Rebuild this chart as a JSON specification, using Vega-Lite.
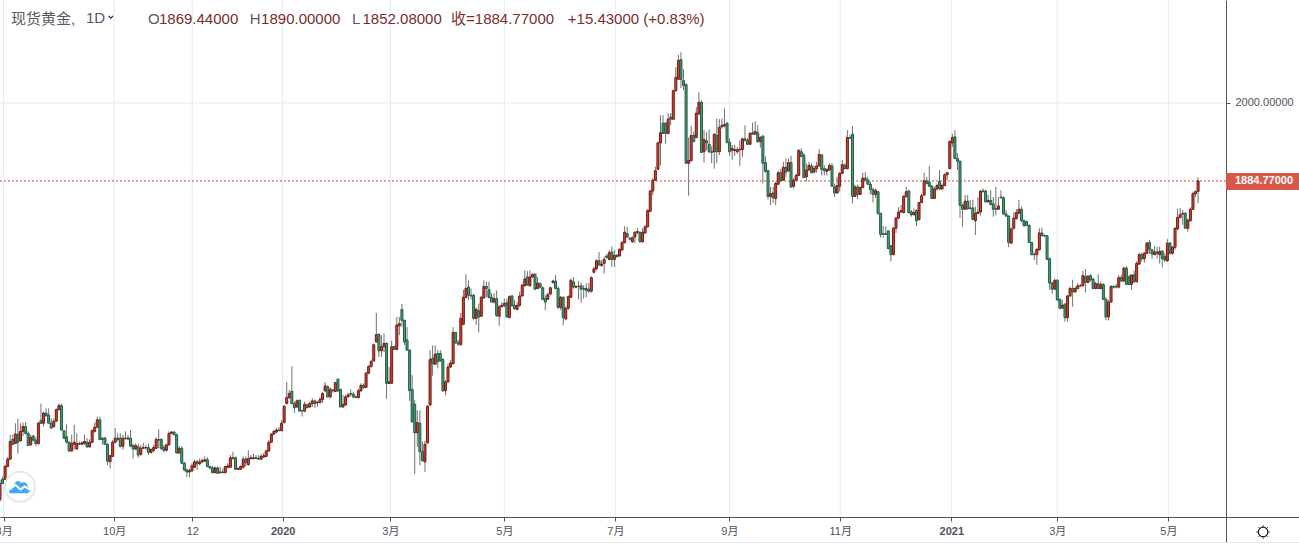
{"$schema":"https://vega.github.io/schema/vega-lite/v6.json","width":1299,"height":543,"padding":0,"autosize":{"type":"none"},"background":"white","config":{"view":{"stroke":null},"font":"Liberation Sans","scale":{"continuousPadding":0}},
"datasets":{"candles":[
{"i":0,"o":1414,"h":1443,"l":1411,"c":1438},{"i":1,"o":1444,"h":1448,"l":1437,"c":1438},{"i":2,"o":1444,"h":1466,"l":1443,"c":1463},{"i":3,"o":1463,"h":1477,"l":1462,"c":1474},{"i":4,"o":1474,"h":1510,"l":1473,"c":1500},{"i":5,"o":1503,"h":1510,"l":1494,"c":1496},{"i":6,"o":1497,"h":1527,"l":1497,"c":1511},{"i":7,"o":1511,"h":1534,"l":1482,"c":1499},{"i":8,"o":1501,"h":1527,"l":1500,"c":1515},{"i":9,"o":1515,"h":1528,"l":1508,"c":1522},
{"i":10,"o":1522,"h":1529,"l":1510,"c":1512},{"i":11,"o":1512,"h":1515,"l":1494,"c":1494},{"i":12,"o":1495,"h":1510,"l":1494,"c":1506},{"i":13,"o":1508,"h":1510,"l":1500,"c":1502},{"i":14,"o":1502,"h":1506,"l":1493,"c":1497},{"i":15,"o":1497,"h":1529,"l":1495,"c":1527},{"i":16,"o":1531,"h":1556,"l":1526,"c":1527},{"i":17,"o":1527,"h":1544,"l":1522,"c":1542},{"i":18,"o":1542,"h":1549,"l":1537,"c":1538},{"i":19,"o":1539,"h":1549,"l":1527,"c":1527},
{"i":20,"o":1527,"h":1534,"l":1518,"c":1520},{"i":21,"o":1522,"h":1534,"l":1520,"c":1530},{"i":22,"o":1530,"h":1549,"l":1529,"c":1547},{"i":23,"o":1547,"h":1556,"l":1546,"c":1553},{"i":24,"o":1553,"h":1556,"l":1516,"c":1517},{"i":25,"o":1516,"h":1517,"l":1503,"c":1505},{"i":26,"o":1507,"h":1525,"l":1497,"c":1499},{"i":27,"o":1499,"h":1500,"l":1485,"c":1486},{"i":28,"o":1486,"h":1510,"l":1485,"c":1497},{"i":29,"o":1496,"h":1525,"l":1488,"c":1499},
{"i":30,"o":1489,"h":1512,"l":1488,"c":1497},{"i":31,"o":1497,"h":1500,"l":1495,"c":1496},{"i":32,"o":1496,"h":1500,"l":1495,"c":1498},{"i":33,"o":1497,"h":1510,"l":1495,"c":1500},{"i":34,"o":1499,"h":1505,"l":1491,"c":1492},{"i":35,"o":1492,"h":1503,"l":1491,"c":1499},{"i":36,"o":1499,"h":1518,"l":1497,"c":1516},{"i":37,"o":1515,"h":1528,"l":1513,"c":1521},{"i":38,"o":1521,"h":1537,"l":1520,"c":1532},{"i":39,"o":1532,"h":1537,"l":1502,"c":1503},
{"i":40,"o":1505,"h":1506,"l":1495,"c":1503},{"i":41,"o":1505,"h":1507,"l":1495,"c":1496},{"i":42,"o":1496,"h":1497,"l":1465,"c":1471},{"i":43,"o":1470,"h":1480,"l":1460,"c":1479},{"i":44,"o":1478,"h":1502,"l":1477,"c":1499},{"i":45,"o":1499,"h":1520,"l":1497,"c":1505},{"i":46,"o":1505,"h":1512,"l":1500,"c":1503},{"i":47,"o":1505,"h":1512,"l":1491,"c":1493},{"i":48,"o":1493,"h":1510,"l":1488,"c":1505},{"i":49,"o":1505,"h":1515,"l":1503,"c":1504},
{"i":50,"o":1504,"h":1510,"l":1502,"c":1505},{"i":51,"o":1505,"h":1517,"l":1492,"c":1493},{"i":52,"o":1494,"h":1497,"l":1475,"c":1489},{"i":53,"o":1489,"h":1497,"l":1487,"c":1494},{"i":54,"o":1492,"h":1497,"l":1476,"c":1480},{"i":55,"o":1481,"h":1495,"l":1479,"c":1490},{"i":56,"o":1490,"h":1498,"l":1489,"c":1491},{"i":57,"o":1491,"h":1495,"l":1487,"c":1491},{"i":58,"o":1491,"h":1497,"l":1480,"c":1484},{"i":59,"o":1484,"h":1490,"l":1482,"c":1488},
{"i":60,"o":1487,"h":1495,"l":1484,"c":1491},{"i":61,"o":1490,"h":1506,"l":1489,"c":1503},{"i":62,"o":1503,"h":1518,"l":1490,"c":1502},{"i":63,"o":1503,"h":1505,"l":1487,"c":1490},{"i":64,"o":1491,"h":1495,"l":1484,"c":1487},{"i":65,"o":1487,"h":1497,"l":1485,"c":1495},{"i":66,"o":1495,"h":1515,"l":1494,"c":1512},{"i":67,"o":1512,"h":1515,"l":1511,"c":1514},{"i":68,"o":1514,"h":1515,"l":1509,"c":1510},{"i":69,"o":1510,"h":1512,"l":1482,"c":1483},
{"i":70,"o":1483,"h":1493,"l":1482,"c":1490},{"i":71,"o":1490,"h":1493,"l":1467,"c":1468},{"i":72,"o":1468,"h":1470,"l":1456,"c":1458},{"i":73,"o":1458,"h":1460,"l":1448,"c":1455},{"i":74,"o":1455,"h":1460,"l":1447,"c":1457},{"i":75,"o":1457,"h":1468,"l":1455,"c":1464},{"i":76,"o":1462,"h":1473,"l":1461,"c":1470},{"i":77,"o":1470,"h":1473,"l":1458,"c":1467},{"i":78,"o":1467,"h":1475,"l":1465,"c":1470},{"i":79,"o":1470,"h":1475,"l":1468,"c":1472},
{"i":80,"o":1471,"h":1478,"l":1470,"c":1473},{"i":81,"o":1473,"h":1477,"l":1462,"c":1463},{"i":82,"o":1463,"h":1464,"l":1459,"c":1461},{"i":83,"o":1461,"h":1464,"l":1453,"c":1454},{"i":84,"o":1454,"h":1463,"l":1453,"c":1461},{"i":85,"o":1461,"h":1463,"l":1452,"c":1453},{"i":86,"o":1454,"h":1463,"l":1453,"c":1455},{"i":87,"o":1455,"h":1460,"l":1453,"c":1454},{"i":88,"o":1454,"h":1464,"l":1453,"c":1463},{"i":89,"o":1462,"h":1468,"l":1460,"c":1464},
{"i":90,"o":1462,"h":1480,"l":1461,"c":1476},{"i":91,"o":1476,"h":1485,"l":1473,"c":1475},{"i":92,"o":1476,"h":1478,"l":1458,"c":1459},{"i":93,"o":1459,"h":1462,"l":1458,"c":1460},{"i":94,"o":1459,"h":1465,"l":1458,"c":1463},{"i":95,"o":1462,"h":1478,"l":1460,"c":1474},{"i":96,"o":1474,"h":1478,"l":1463,"c":1469},{"i":97,"o":1466,"h":1487,"l":1464,"c":1475},{"i":98,"o":1475,"h":1480,"l":1473,"c":1476},{"i":99,"o":1475,"h":1482,"l":1473,"c":1476},
{"i":100,"o":1476,"h":1480,"l":1474,"c":1475},{"i":101,"o":1475,"h":1480,"l":1473,"c":1474},{"i":102,"o":1474,"h":1482,"l":1473,"c":1478},{"i":103,"o":1477,"h":1483,"l":1476,"c":1479},{"i":104,"o":1478,"h":1488,"l":1477,"c":1486},{"i":105,"o":1486,"h":1502,"l":1485,"c":1499},{"i":106,"o":1499,"h":1512,"l":1498,"c":1511},{"i":107,"o":1511,"h":1517,"l":1510,"c":1515},{"i":108,"o":1514,"h":1520,"l":1512,"c":1517},{"i":109,"o":1517,"h":1522,"l":1516,"c":1516},
{"i":110,"o":1516,"h":1532,"l":1515,"c":1527},{"i":111,"o":1528,"h":1554,"l":1527,"c":1552},{"i":112,"o":1556,"h":1588,"l":1555,"c":1565},{"i":113,"o":1565,"h":1576,"l":1563,"c":1571},{"i":114,"o":1574,"h":1611,"l":1555,"c":1556},{"i":115,"o":1556,"h":1559,"l":1542,"c":1550},{"i":116,"o":1551,"h":1562,"l":1550,"c":1560},{"i":117,"o":1561,"h":1562,"l":1544,"c":1545},{"i":118,"o":1546,"h":1546,"l":1537,"c":1545},{"i":119,"o":1545,"h":1559,"l":1543,"c":1555},
{"i":120,"o":1554,"h":1556,"l":1549,"c":1550},{"i":121,"o":1551,"h":1559,"l":1550,"c":1556},{"i":122,"o":1556,"h":1564,"l":1551,"c":1560},{"i":123,"o":1560,"h":1562,"l":1549,"c":1556},{"i":124,"o":1557,"h":1560,"l":1551,"c":1558},{"i":125,"o":1558,"h":1566,"l":1556,"c":1562},{"i":126,"o":1562,"h":1573,"l":1557,"c":1571},{"i":127,"o":1575,"h":1588,"l":1573,"c":1582},{"i":128,"o":1581,"h":1583,"l":1565,"c":1566},{"i":129,"o":1566,"h":1580,"l":1563,"c":1577},
{"i":130,"o":1576,"h":1578,"l":1572,"c":1575},{"i":131,"o":1574,"h":1588,"l":1573,"c":1587},{"i":132,"o":1592,"h":1593,"l":1573,"c":1575},{"i":133,"o":1577,"h":1578,"l":1551,"c":1551},{"i":134,"o":1551,"h":1569,"l":1550,"c":1555},{"i":135,"o":1554,"h":1569,"l":1553,"c":1566},{"i":136,"o":1566,"h":1572,"l":1565,"c":1569},{"i":137,"o":1571,"h":1577,"l":1567,"c":1570},{"i":138,"o":1570,"h":1573,"l":1564,"c":1566},{"i":139,"o":1566,"h":1568,"l":1564,"c":1565},
{"i":140,"o":1565,"h":1578,"l":1563,"c":1575},{"i":141,"o":1575,"h":1586,"l":1573,"c":1583},{"i":142,"o":1583,"h":1586,"l":1578,"c":1580},{"i":143,"o":1580,"h":1603,"l":1579,"c":1601},{"i":144,"o":1601,"h":1613,"l":1599,"c":1611},{"i":145,"o":1611,"h":1621,"l":1609,"c":1618},{"i":146,"o":1619,"h":1645,"l":1618,"c":1643},{"i":147,"o":1647,"h":1690,"l":1646,"c":1658},{"i":148,"o":1658,"h":1660,"l":1625,"c":1634},{"i":149,"o":1634,"h":1657,"l":1625,"c":1640},
{"i":150,"o":1640,"h":1660,"l":1632,"c":1645},{"i":151,"o":1645,"h":1646,"l":1563,"c":1586},{"i":152,"o":1586,"h":1610,"l":1585,"c":1588},{"i":153,"o":1586,"h":1649,"l":1585,"c":1640},{"i":154,"o":1640,"h":1642,"l":1635,"c":1636},{"i":155,"o":1636,"h":1684,"l":1635,"c":1672},{"i":156,"o":1671,"h":1684,"l":1657,"c":1674},{"i":157,"o":1695,"h":1703,"l":1669,"c":1679},{"i":158,"o":1679,"h":1680,"l":1642,"c":1647},{"i":159,"o":1650,"h":1669,"l":1634,"c":1635},
{"i":160,"o":1635,"h":1636,"l":1560,"c":1575},{"i":161,"o":1577,"h":1598,"l":1528,"c":1529},{"i":162,"o":1555,"h":1561,"l":1452,"c":1513},{"i":163,"o":1513,"h":1546,"l":1492,"c":1528},{"i":164,"o":1527,"h":1546,"l":1465,"c":1485},{"i":165,"o":1485,"h":1500,"l":1470,"c":1472},{"i":166,"o":1470,"h":1501,"l":1455,"c":1496},{"i":167,"o":1498,"h":1554,"l":1497,"c":1552},{"i":168,"o":1554,"h":1635,"l":1552,"c":1621},{"i":169,"o":1623,"h":1642,"l":1597,"c":1615},
{"i":170,"o":1614,"h":1642,"l":1613,"c":1629},{"i":171,"o":1630,"h":1635,"l":1608,"c":1618},{"i":172,"o":1630,"h":1635,"l":1618,"c":1619},{"i":173,"o":1621,"h":1623,"l":1573,"c":1575},{"i":174,"o":1575,"h":1591,"l":1568,"c":1588},{"i":175,"o":1588,"h":1615,"l":1587,"c":1610},{"i":176,"o":1610,"h":1620,"l":1609,"c":1616},{"i":177,"o":1615,"h":1669,"l":1614,"c":1661},{"i":178,"o":1661,"h":1662,"l":1644,"c":1646},{"i":179,"o":1646,"h":1650,"l":1641,"c":1644},
{"i":180,"o":1643,"h":1690,"l":1642,"c":1682},{"i":181,"o":1673,"h":1724,"l":1672,"c":1713},{"i":182,"o":1713,"h":1747,"l":1711,"c":1726},{"i":183,"o":1728,"h":1738,"l":1709,"c":1716},{"i":184,"o":1716,"h":1726,"l":1710,"c":1715},{"i":185,"o":1716,"h":1718,"l":1679,"c":1682},{"i":186,"o":1682,"h":1698,"l":1672,"c":1695},{"i":187,"o":1693,"h":1704,"l":1661,"c":1684},{"i":188,"o":1685,"h":1715,"l":1684,"c":1713},{"i":189,"o":1712,"h":1738,"l":1711,"c":1729},
{"i":190,"o":1729,"h":1736,"l":1713,"c":1726},{"i":191,"o":1724,"h":1736,"l":1711,"c":1713},{"i":192,"o":1713,"h":1719,"l":1705,"c":1706},{"i":193,"o":1706,"h":1719,"l":1704,"c":1711},{"i":194,"o":1711,"h":1723,"l":1684,"c":1686},{"i":195,"o":1685,"h":1701,"l":1671,"c":1699},{"i":196,"o":1699,"h":1706,"l":1698,"c":1701},{"i":197,"o":1701,"h":1711,"l":1698,"c":1704},{"i":198,"o":1705,"h":1711,"l":1683,"c":1684},{"i":199,"o":1683,"h":1716,"l":1682,"c":1714},
{"i":200,"o":1715,"h":1716,"l":1699,"c":1701},{"i":201,"o":1701,"h":1709,"l":1695,"c":1696},{"i":202,"o":1695,"h":1706,"l":1694,"c":1701},{"i":203,"o":1701,"h":1721,"l":1699,"c":1715},{"i":204,"o":1715,"h":1733,"l":1714,"c":1731},{"i":205,"o":1730,"h":1753,"l":1729,"c":1740},{"i":206,"o":1743,"h":1752,"l":1730,"c":1731},{"i":207,"o":1730,"h":1753,"l":1729,"c":1743},{"i":208,"o":1743,"h":1748,"l":1742,"c":1747},{"i":209,"o":1747,"h":1748,"l":1724,"c":1725},
{"i":210,"o":1726,"h":1743,"l":1725,"c":1734},{"i":211,"o":1733,"h":1735,"l":1726,"c":1728},{"i":212,"o":1727,"h":1729,"l":1709,"c":1710},{"i":213,"o":1711,"h":1716,"l":1694,"c":1706},{"i":214,"o":1710,"h":1720,"l":1709,"c":1717},{"i":215,"o":1718,"h":1729,"l":1716,"c":1727},{"i":216,"o":1735,"h":1739,"l":1733,"c":1737},{"i":217,"o":1737,"h":1746,"l":1725,"c":1726},{"i":218,"o":1726,"h":1729,"l":1696,"c":1698},{"i":219,"o":1698,"h":1715,"l":1694,"c":1713},
{"i":220,"o":1713,"h":1714,"l":1672,"c":1683},{"i":221,"o":1681,"h":1699,"l":1679,"c":1697},{"i":222,"o":1697,"h":1716,"l":1694,"c":1714},{"i":223,"o":1713,"h":1741,"l":1712,"c":1738},{"i":224,"o":1736,"h":1743,"l":1726,"c":1728},{"i":225,"o":1728,"h":1731,"l":1726,"c":1729},{"i":226,"o":1729,"h":1737,"l":1710,"c":1729},
{"i":227,"o":1730,"h":1735,"l":1705,"c":1725},{"i":228,"o":1726,"h":1731,"l":1711,"c":1725},{"i":229,"o":1726,"h":1734,"l":1713,"c":1723},{"i":230,"o":1725,"h":1734,"l":1719,"c":1722},{"i":231,"o":1722,"h":1744,"l":1720,"c":1742},{"i":232,"o":1750,"h":1758,"l":1748,"c":1755},{"i":233,"o":1755,"h":1769,"l":1753,"c":1767},{"i":234,"o":1767,"h":1780,"l":1759,"c":1761},{"i":235,"o":1760,"h":1768,"l":1758,"c":1762},{"i":236,"o":1763,"h":1773,"l":1748,"c":1769},
{"i":237,"o":1774,"h":1777,"l":1770,"c":1772},{"i":238,"o":1769,"h":1783,"l":1768,"c":1779},{"i":239,"o":1780,"h":1788,"l":1758,"c":1769},{"i":240,"o":1769,"h":1783,"l":1758,"c":1775},{"i":241,"o":1775,"h":1777,"l":1772,"c":1773},{"i":242,"o":1774,"h":1785,"l":1773,"c":1784},{"i":243,"o":1783,"h":1796,"l":1781,"c":1794},{"i":244,"o":1794,"h":1818,"l":1792,"c":1809},{"i":245,"o":1807,"h":1817,"l":1801,"c":1802},{"i":246,"o":1800,"h":1802,"l":1797,"c":1799},
{"i":247,"o":1795,"h":1803,"l":1793,"c":1801},{"i":248,"o":1802,"h":1811,"l":1793,"c":1809},{"i":249,"o":1809,"h":1815,"l":1806,"c":1810},{"i":250,"o":1809,"h":1810,"l":1794,"c":1795},{"i":251,"o":1795,"h":1815,"l":1794,"c":1809},{"i":252,"o":1808,"h":1820,"l":1807,"c":1817},{"i":253,"o":1817,"h":1843,"l":1816,"c":1841},{"i":254,"o":1840,"h":1872,"l":1839,"c":1870},{"i":255,"o":1870,"h":1889,"l":1864,"c":1886},{"i":256,"o":1886,"h":1906,"l":1885,"c":1900},
{"i":257,"o":1902,"h":1943,"l":1901,"c":1941},{"i":258,"o":1941,"h":1982,"l":1908,"c":1956},{"i":259,"o":1970,"h":1982,"l":1954,"c":1955},{"i":260,"o":1970,"h":1972,"l":1940,"c":1955},{"i":261,"o":1955,"h":1985,"l":1954,"c":1976},{"i":262,"o":1979,"h":1985,"l":1967,"c":1976},{"i":263,"o":1976,"h":2020,"l":1975,"c":2018},{"i":264,"o":2018,"h":2053,"l":2017,"c":2038},{"i":265,"o":2035,"h":2071,"l":2034,"c":2063},{"i":266,"o":2064,"h":2075,"l":2022,"c":2035},
{"i":267,"o":2033,"h":2050,"l":2019,"c":2026},{"i":268,"o":2027,"h":2029,"l":1910,"c":1911},{"i":269,"o":1911,"h":1949,"l":1863,"c":1915},{"i":270,"o":1915,"h":1966,"l":1913,"c":1952},{"i":271,"o":1952,"h":1958,"l":1942,"c":1943},{"i":272,"o":1949,"h":1994,"l":1948,"c":1985},{"i":273,"o":1984,"h":2016,"l":1982,"c":2001},{"i":274,"o":2001,"h":2004,"l":1926,"c":1927},{"i":275,"o":1928,"h":1960,"l":1912,"c":1946},{"i":276,"o":1944,"h":1957,"l":1930,"c":1941},
{"i":277,"o":1939,"h":1961,"l":1926,"c":1928},{"i":278,"o":1928,"h":1936,"l":1911,"c":1927},{"i":279,"o":1928,"h":1955,"l":1903,"c":1954},{"i":280,"o":1952,"h":1977,"l":1911,"c":1928},{"i":281,"o":1928,"h":1976,"l":1923,"c":1964},{"i":282,"o":1965,"h":1977,"l":1962,"c":1967},{"i":283,"o":1966,"h":1992,"l":1964,"c":1968},{"i":284,"o":1970,"h":1972,"l":1940,"c":1942},{"i":285,"o":1942,"h":1948,"l":1922,"c":1928},{"i":286,"o":1930,"h":1938,"l":1916,"c":1933},
{"i":287,"o":1930,"h":1938,"l":1922,"c":1931},{"i":288,"o":1928,"h":1935,"l":1925,"c":1931},{"i":289,"o":1931,"h":1945,"l":1907,"c":1932},{"i":290,"o":1931,"h":1949,"l":1920,"c":1947},{"i":291,"o":1947,"h":1967,"l":1943,"c":1945},{"i":292,"o":1945,"h":1948,"l":1938,"c":1939},{"i":293,"o":1939,"h":1957,"l":1938,"c":1955},{"i":294,"o":1956,"h":1971,"l":1953,"c":1954},{"i":295,"o":1954,"h":1973,"l":1953,"c":1958},{"i":296,"o":1956,"h":1967,"l":1941,"c":1943},
{"i":297,"o":1943,"h":1951,"l":1934,"c":1949},{"i":298,"o":1951,"h":1953,"l":1881,"c":1911},{"i":299,"o":1912,"h":1921,"l":1897,"c":1899},{"i":300,"o":1900,"h":1901,"l":1857,"c":1862},{"i":301,"o":1862,"h":1876,"l":1849,"c":1866},{"i":302,"o":1867,"h":1876,"l":1852,"c":1860},{"i":303,"o":1859,"h":1884,"l":1849,"c":1881},{"i":304,"o":1880,"h":1900,"l":1879,"c":1897},{"i":305,"o":1897,"h":1903,"l":1884,"c":1885},{"i":306,"o":1886,"h":1913,"l":1885,"c":1905},
{"i":307,"o":1905,"h":1918,"l":1891,"c":1898},{"i":308,"o":1900,"h":1918,"l":1898,"c":1912},{"i":309,"o":1912,"h":1922,"l":1875,"c":1876},{"i":310,"o":1877,"h":1889,"l":1874,"c":1886},{"i":311,"o":1886,"h":1896,"l":1885,"c":1893},{"i":312,"o":1893,"h":1932,"l":1892,"c":1930},{"i":313,"o":1928,"h":1933,"l":1920,"c":1921},{"i":314,"o":1923,"h":1926,"l":1889,"c":1890},{"i":315,"o":1891,"h":1911,"l":1884,"c":1901},{"i":316,"o":1901,"h":1913,"l":1900,"c":1908},
{"i":317,"o":1907,"h":1911,"l":1896,"c":1897},{"i":318,"o":1898,"h":1908,"l":1896,"c":1903},{"i":319,"o":1903,"h":1913,"l":1897,"c":1907},{"i":320,"o":1907,"h":1932,"l":1906,"c":1924},{"i":321,"o":1923,"h":1925,"l":1893,"c":1902},{"i":322,"o":1903,"h":1908,"l":1893,"c":1900},{"i":323,"o":1899,"h":1903,"l":1893,"c":1902},{"i":324,"o":1901,"h":1911,"l":1900,"c":1908},{"i":325,"o":1907,"h":1911,"l":1876,"c":1877},{"i":326,"o":1876,"h":1881,"l":1861,"c":1867},
{"i":327,"o":1867,"h":1891,"l":1866,"c":1878},{"i":328,"o":1877,"h":1898,"l":1869,"c":1896},{"i":329,"o":1896,"h":1916,"l":1895,"c":1909},{"i":330,"o":1908,"h":1911,"l":1902,"c":1903},{"i":331,"o":1903,"h":1960,"l":1902,"c":1949},{"i":332,"o":1949,"h":1953,"l":1947,"c":1948},{"i":333,"o":1954,"h":1966,"l":1852,"c":1862},{"i":334,"o":1862,"h":1879,"l":1861,"c":1876},{"i":335,"o":1876,"h":1879,"l":1858,"c":1865},
{"i":336,"o":1865,"h":1877,"l":1864,"c":1875},{"i":337,"o":1875,"h":1897,"l":1874,"c":1889},{"i":338,"o":1889,"h":1898,"l":1885,"c":1886},{"i":339,"o":1886,"h":1891,"l":1879,"c":1880},{"i":340,"o":1880,"h":1884,"l":1865,"c":1872},{"i":341,"o":1872,"h":1875,"l":1853,"c":1865},{"i":342,"o":1865,"h":1874,"l":1860,"c":1871},{"i":343,"o":1869,"h":1870,"l":1835,"c":1837},{"i":344,"o":1837,"h":1838,"l":1801,"c":1806},{"i":345,"o":1807,"h":1818,"l":1801,"c":1806},
{"i":346,"o":1807,"h":1818,"l":1805,"c":1806},{"i":347,"o":1811,"h":1812,"l":1784,"c":1785},{"i":348,"o":1789,"h":1790,"l":1766,"c":1776},{"i":349,"o":1776,"h":1817,"l":1775,"c":1815},{"i":350,"o":1815,"h":1832,"l":1808,"c":1830},{"i":351,"o":1830,"h":1846,"l":1828,"c":1839},{"i":352,"o":1839,"h":1849,"l":1838,"c":1841},{"i":353,"o":1838,"h":1864,"l":1837,"c":1862},{"i":354,"o":1862,"h":1876,"l":1860,"c":1869},{"i":355,"o":1870,"h":1872,"l":1837,"c":1838},
{"i":356,"o":1839,"h":1842,"l":1832,"c":1835},{"i":357,"o":1835,"h":1844,"l":1834,"c":1838},{"i":358,"o":1841,"h":1843,"l":1818,"c":1826},{"i":359,"o":1828,"h":1854,"l":1826,"c":1853},{"i":360,"o":1853,"h":1866,"l":1852,"c":1863},{"i":361,"o":1864,"h":1897,"l":1863,"c":1885},{"i":362,"o":1885,"h":1891,"l":1880,"c":1881},{"i":363,"o":1883,"h":1907,"l":1876,"c":1877},{"i":364,"o":1877,"h":1879,"l":1858,"c":1859},{"i":365,"o":1859,"h":1876,"l":1858,"c":1873},
{"i":366,"o":1873,"h":1881,"l":1871,"c":1878},{"i":367,"o":1884,"h":1901,"l":1871,"c":1873},{"i":368,"o":1873,"h":1881,"l":1871,"c":1878},{"i":369,"o":1878,"h":1896,"l":1877,"c":1894},{"i":370,"o":1894,"h":1898,"l":1886,"c":1897},{"i":371,"o":1903,"h":1945,"l":1902,"c":1943},{"i":372,"o":1941,"h":1955,"l":1935,"c":1949},{"i":373,"o":1950,"h":1960,"l":1917,"c":1918},{"i":374,"o":1918,"h":1926,"l":1901,"c":1914},{"i":375,"o":1914,"h":1915,"l":1830,"c":1849},
{"i":376,"o":1849,"h":1852,"l":1817,"c":1843},{"i":377,"o":1843,"h":1864,"l":1842,"c":1855},{"i":378,"o":1855,"h":1864,"l":1842,"c":1844},{"i":379,"o":1845,"h":1857,"l":1843,"c":1844},{"i":380,"o":1845,"h":1857,"l":1827,"c":1828},{"i":381,"o":1826,"h":1847,"l":1805,"c":1837},{"i":382,"o":1837,"h":1861,"l":1836,"c":1839},{"i":383,"o":1839,"h":1871,"l":1834,"c":1870},{"i":384,"o":1870,"h":1874,"l":1868,"c":1869},{"i":385,"o":1870,"h":1872,"l":1853,"c":1854},
{"i":386,"o":1854,"h":1864,"l":1853,"c":1856},{"i":387,"o":1856,"h":1871,"l":1849,"c":1850},{"i":388,"o":1851,"h":1861,"l":1832,"c":1843},{"i":389,"o":1844,"h":1876,"l":1834,"c":1843},{"i":390,"o":1843,"h":1861,"l":1842,"c":1848},{"i":391,"o":1861,"h":1871,"l":1859,"c":1860},{"i":392,"o":1860,"h":1862,"l":1835,"c":1836},{"i":393,"o":1836,"h":1842,"l":1832,"c":1833},{"i":394,"o":1833,"h":1834,"l":1787,"c":1794},{"i":395,"o":1793,"h":1816,"l":1792,"c":1814},
{"i":396,"o":1815,"h":1839,"l":1813,"c":1830},{"i":397,"o":1829,"h":1843,"l":1828,"c":1838},{"i":398,"o":1837,"h":1857,"l":1836,"c":1843},{"i":399,"o":1843,"h":1847,"l":1824,"c":1826},{"i":400,"o":1826,"h":1828,"l":1817,"c":1819},{"i":401,"o":1825,"h":1826,"l":1818,"c":1819},{"i":402,"o":1819,"h":1821,"l":1793,"c":1794},{"i":403,"o":1794,"h":1795,"l":1775,"c":1776},{"i":404,"o":1776,"h":1780,"l":1768,"c":1776},{"i":405,"o":1776,"h":1785,"l":1761,"c":1784},
{"i":406,"o":1783,"h":1815,"l":1782,"c":1808},{"i":407,"o":1808,"h":1816,"l":1803,"c":1804},{"i":408,"o":1804,"h":1806,"l":1802,"c":1804},{"i":409,"o":1804,"h":1805,"l":1768,"c":1769},{"i":410,"o":1770,"h":1772,"l":1724,"c":1734},{"i":411,"o":1734,"h":1736,"l":1718,"c":1725},{"i":412,"o":1725,"h":1741,"l":1724,"c":1738},{"i":413,"o":1738,"h":1740,"l":1708,"c":1709},{"i":414,"o":1710,"h":1711,"l":1695,"c":1697},{"i":415,"o":1697,"h":1709,"l":1696,"c":1701},
{"i":416,"o":1703,"h":1704,"l":1677,"c":1683},{"i":417,"o":1683,"h":1716,"l":1677,"c":1715},{"i":418,"o":1715,"h":1729,"l":1714,"c":1726},{"i":419,"o":1726,"h":1739,"l":1699,"c":1721},{"i":420,"o":1721,"h":1729,"l":1720,"c":1726},{"i":421,"o":1726,"h":1734,"l":1725,"c":1730},{"i":422,"o":1730,"h":1733,"l":1728,"c":1730},{"i":423,"o":1730,"h":1752,"l":1729,"c":1745},{"i":424,"o":1744,"h":1755,"l":1720,"c":1735},{"i":425,"o":1735,"h":1746,"l":1734,"c":1744},
{"i":426,"o":1745,"h":1747,"l":1736,"c":1739},{"i":427,"o":1740,"h":1741,"l":1725,"c":1726},{"i":428,"o":1726,"h":1736,"l":1725,"c":1733},{"i":429,"o":1733,"h":1747,"l":1725,"c":1726},{"i":430,"o":1726,"h":1736,"l":1725,"c":1732},{"i":431,"o":1732,"h":1734,"l":1709,"c":1710},{"i":432,"o":1710,"h":1713,"l":1679,"c":1684},{"i":433,"o":1684,"h":1709,"l":1679,"c":1706},{"i":434,"o":1706,"h":1731,"l":1705,"c":1729},{"i":435,"o":1729,"h":1731,"l":1726,"c":1728},
{"i":436,"o":1729,"h":1733,"l":1726,"c":1728},{"i":437,"o":1728,"h":1746,"l":1726,"c":1742},{"i":438,"o":1742,"h":1746,"l":1736,"c":1737},{"i":439,"o":1737,"h":1758,"l":1736,"c":1756},{"i":440,"o":1756,"h":1759,"l":1731,"c":1732},{"i":441,"o":1743,"h":1746,"l":1731,"c":1732},{"i":442,"o":1732,"h":1747,"l":1724,"c":1746},{"i":443,"o":1746,"h":1753,"l":1734,"c":1736},{"i":444,"o":1736,"h":1766,"l":1735,"c":1763},{"i":445,"o":1762,"h":1779,"l":1761,"c":1776},
{"i":446,"o":1776,"h":1779,"l":1766,"c":1770},{"i":447,"o":1770,"h":1780,"l":1764,"c":1778},{"i":448,"o":1778,"h":1795,"l":1777,"c":1793},{"i":449,"o":1794,"h":1798,"l":1777,"c":1784},
{"i":450,"o":1783,"h":1785,"l":1770,"c":1777},{"i":451,"o":1776,"h":1789,"l":1775,"c":1780},{"i":452,"o":1780,"h":1788,"l":1770,"c":1778},{"i":453,"o":1776,"h":1788,"l":1763,"c":1781},{"i":454,"o":1781,"h":1783,"l":1757,"c":1770},{"i":455,"o":1773,"h":1778,"l":1765,"c":1768},{"i":456,"o":1767,"h":1799,"l":1765,"c":1793},{"i":457,"o":1793,"h":1795,"l":1776,"c":1778},{"i":458,"o":1778,"h":1789,"l":1776,"c":1787},{"i":459,"o":1787,"h":1816,"l":1783,"c":1815},
{"i":460,"o":1814,"h":1844,"l":1812,"c":1831},{"i":461,"o":1831,"h":1845,"l":1829,"c":1835},{"i":462,"o":1836,"h":1842,"l":1820,"c":1837},{"i":463,"o":1837,"h":1839,"l":1814,"c":1815},{"i":464,"o":1815,"h":1829,"l":1810,"c":1827},{"i":465,"o":1826,"h":1846,"l":1825,"c":1843},{"i":466,"o":1843,"h":1869,"l":1842,"c":1866},{"i":467,"o":1866,"h":1871,"l":1861,"c":1869},{"i":468,"o":1869.44,"h":1890,"l":1852.08,"c":1884.77}
],
"ticks":[{"i":1.4,"t":"8月"},{"i":44.6,"t":"10月"},{"i":75.1,"t":"12"},{"i":110.4,"t":"2020"},{"i":152.5,"t":"3月"},{"i":197,"t":"5月"},{"i":240.4,"t":"7月"},{"i":284.9,"t":"9月"},{"i":328.2,"t":"11月"},{"i":371.6,"t":"2021"},{"i":413,"t":"3月"},{"i":456.4,"t":"5月"}],
"hdrGrey":[{"t":"现货黄金,","x":4.3,"y":2124},{"t":"1D","x":33.6,"y":2125},{"t":"O","x":57.8,"y":2124},{"t":"H","x":97.6,"y":2124},{"t":"L","x":137.5,"y":2124}],
"hdrRed":[{"t":"1869.44000","x":62.1,"y":2124},{"t":"1890.00000","x":102,"y":2124},{"t":"1852.08000","x":141.6,"y":2124},{"t":"收=1884.77000","x":176.2,"y":2124},{"t":"+15.43000 (+0.83%)","x":221.8,"y":2124}]},
"layer":[
{"data":{"name":"ticks"},"mark":{"type":"rule","color":"#e1ecf3","strokeWidth":1},"encoding":{"x":{"field":"i","type":"quantitative","scale":{"domain":[0,507.42],"nice":false,"zero":false},"axis":{"orient":"bottom","offset":-26,"title":null,"grid":false,"values":[1.4,44.6,75.1,110.4,152.5,197,240.4,284.9,328.2,371.6,413,456.4],"labelExpr":"{'1.4':'8月','44.6':'10月','75.1':'12','110.4':'2020','152.5':'3月','197':'5月','240.4':'7月','284.9':'9月','328.2':'11月','371.6':'2021','413':'3月','456.4':'5月'}[datum.value]","labelFont":"Liberation Sans, Noto Sans CJK SC","labelFontSize":11,"labelColor":"#50535e","labelPadding":4,"labelOverlap":false,"labelFontWeight":{"condition":{"test":"datum.value==110.4||datum.value==371.6","value":"bold"},"value":"normal"},"domainColor":"#50535e","tickColor":"#50535e","tickSize":4}},"y":{"datum":1388.5,"type":"quantitative","scale":{"domain":[1350.1,2152.1],"nice":false,"zero":false},"axis":{"orient":"right","offset":-73,"title":null,"grid":false,"values":[2000],"format":".5f","labelFont":"Liberation Sans","labelFontSize":11,"labelColor":"#50535e","labelPadding":5,"domainColor":"#50535e","tickColor":"#50535e","tickSize":4}},"y2":{"datum":2152.1}}},
{"data":{"values":[{"i":0,"i2":478.9,"p":2000}]},"mark":{"type":"rule","color":"#e1ecf3","strokeWidth":1},"encoding":{"x":{"field":"i","type":"quantitative","scale":{"domain":[0,507.42],"nice":false,"zero":false}},"x2":{"field":"i2"},"y":{"field":"p","type":"quantitative","scale":{"domain":[1350.1,2152.1],"nice":false,"zero":false}}}},
{"data":{"values":[{"i":0,"i2":478.9,"p":1884.77}]},"mark":{"type":"rule","color":"#c9483c","strokeWidth":1,"strokeDash":[2,2]},"encoding":{"x":{"field":"i","type":"quantitative","scale":{"domain":[0,507.42],"nice":false,"zero":false}},"x2":{"field":"i2"},"y":{"field":"p","type":"quantitative","scale":{"domain":[1350.1,2152.1],"nice":false,"zero":false}}}},
{"data":{"values":[{"p":1350.6}]},"mark":{"type":"rule","color":"#e0e3eb","strokeWidth":1},"encoding":{"y":{"field":"p","type":"quantitative","scale":{"domain":[1350.1,2152.1],"nice":false,"zero":false}}}},
{"data":{"name":"candles"},"mark":{"type":"rule","color":"#707070","strokeWidth":1},"encoding":{"x":{"field":"i","type":"quantitative","scale":{"domain":[0,507.42],"nice":false,"zero":false}},"y":{"field":"l","type":"quantitative","scale":{"domain":[1350.1,2152.1],"nice":false,"zero":false}},"y2":{"field":"h"}}},
{"data":{"name":"candles"},"mark":{"type":"bar","size":2,"strokeWidth":1,"orient":"vertical"},"encoding":{"x":{"field":"i","type":"quantitative","scale":{"domain":[0,507.42],"nice":false,"zero":false}},"y":{"field":"o","type":"quantitative","scale":{"domain":[1350.1,2152.1],"nice":false,"zero":false}},"y2":{"field":"c"},"fill":{"condition":{"test":"datum.c>=datum.o","value":"#dc3f2e"},"value":"#4f9c78"},"stroke":{"condition":{"test":"datum.c>=datum.o","value":"#6e1c16"},"value":"#1f5c43"}}},
{"data":{"values":[{"i":478.9,"i2":507.42,"p":1896.6,"p2":1871.5}]},"mark":{"type":"rect","color":"#d9574a"},"encoding":{"x":{"field":"i","type":"quantitative","scale":{"domain":[0,507.42],"nice":false,"zero":false}},"x2":{"field":"i2"},"y":{"field":"p","type":"quantitative","scale":{"domain":[1350.1,2152.1],"nice":false,"zero":false}},"y2":{"field":"p2"}}},
{"data":{"values":[{"i":482.4,"p":1884.5,"t":"1884.77000"}]},"mark":{"type":"text","align":"left","baseline":"middle","color":"white","fontWeight":"bold","font":"Liberation Sans","fontSize":11},"encoding":{"x":{"field":"i","type":"quantitative","scale":{"domain":[0,507.42],"nice":false,"zero":false}},"y":{"field":"p","type":"quantitative","scale":{"domain":[1350.1,2152.1],"nice":false,"zero":false}},"text":{"field":"t"}}},
{"data":{"name":"hdrGrey"},"mark":{"type":"text","align":"left","baseline":"middle","color":"#555963","font":"Liberation Sans, Noto Sans CJK SC","fontSize":15},"encoding":{"x":{"field":"x","type":"quantitative","scale":{"domain":[0,507.42],"nice":false,"zero":false}},"y":{"field":"y","type":"quantitative","scale":{"domain":[1350.1,2152.1],"nice":false,"zero":false}},"text":{"field":"t"}}},
{"data":{"name":"hdrRed"},"mark":{"type":"text","align":"left","baseline":"middle","color":"#7a2e2a","font":"Liberation Sans, Noto Sans CJK SC","fontSize":15},"encoding":{"x":{"field":"x","type":"quantitative","scale":{"domain":[0,507.42],"nice":false,"zero":false}},"y":{"field":"y","type":"quantitative","scale":{"domain":[1350.1,2152.1],"nice":false,"zero":false}},"text":{"field":"t"}}},
{"data":{"values":[{"i":43.3,"p":2127}]},"mark":{"type":"point","shape":"M-1,-0.5 L0,0.5 L1,-0.5","filled":false,"stroke":"#2a2e39","strokeWidth":1.3,"size":20,"opacity":1},"encoding":{"x":{"field":"i","type":"quantitative","scale":{"domain":[0,507.42],"nice":false,"zero":false}},"y":{"field":"p","type":"quantitative","scale":{"domain":[1350.1,2152.1],"nice":false,"zero":false}}}},
{"data":{"values":[{"i":7.8,"p":1433}]},"mark":{"type":"point","shape":"circle","filled":true,"fill":"white","stroke":"#e6e8ec","strokeWidth":2,"size":900,"opacity":1},"encoding":{"x":{"field":"i","type":"quantitative","scale":{"domain":[0,507.42],"nice":false,"zero":false}},"y":{"field":"p","type":"quantitative","scale":{"domain":[1350.1,2152.1],"nice":false,"zero":false}}}},
{"data":{"values":[{"i":7.8,"p":1433}]},"mark":{"type":"point","shape":"M-1,0.6 C-1.05,0.2 -0.85,-0.1 -0.6,-0.1 C-0.5,-0.6 -0.1,-0.7 0.1,-0.35 C0.4,-0.55 0.8,-0.3 0.7,0 C1.05,0.1 1.05,0.6 0.7,0.6 Z","filled":true,"fill":"#3fa9f5","stroke":"#3fa9f5","strokeWidth":0.5,"size":420,"opacity":1},"encoding":{"x":{"field":"i","type":"quantitative","scale":{"domain":[0,507.42],"nice":false,"zero":false}},"y":{"field":"p","type":"quantitative","scale":{"domain":[1350.1,2152.1],"nice":false,"zero":false}}}},
{"data":{"values":[{"i":7.8,"p":1433}]},"mark":{"type":"point","shape":"M-1,0.25 L-0.45,-0.2 L0.05,0.25 L0.45,-0.05 L1,0.3","filled":false,"stroke":"white","strokeWidth":2,"size":420,"opacity":1},"encoding":{"x":{"field":"i","type":"quantitative","scale":{"domain":[0,507.42],"nice":false,"zero":false}},"y":{"field":"p","type":"quantitative","scale":{"domain":[1350.1,2152.1],"nice":false,"zero":false}}}},
{"data":{"values":[{"i":493.4,"p":1366.4}]},"mark":{"type":"point","shape":"circle","filled":false,"stroke":"#131722","strokeWidth":1.2,"size":90,"opacity":1},"encoding":{"x":{"field":"i","type":"quantitative","scale":{"domain":[0,507.42],"nice":false,"zero":false}},"y":{"field":"p","type":"quantitative","scale":{"domain":[1350.1,2152.1],"nice":false,"zero":false}}}},
{"data":{"values":[{"i":493.4,"p":1366.4}]},"mark":{"type":"point","shape":"M0,-1 L0,-0.8 M0,1 L0,0.8 M-1,0 L-0.8,0 M1,0 L0.8,0 M-0.7,-0.7 L-0.58,-0.58 M0.7,-0.7 L0.58,-0.58 M-0.7,0.7 L-0.58,0.58 M0.7,0.7 L0.58,0.58","filled":false,"stroke":"#131722","strokeWidth":1,"size":180,"opacity":1},"encoding":{"x":{"field":"i","type":"quantitative","scale":{"domain":[0,507.42],"nice":false,"zero":false}},"y":{"field":"p","type":"quantitative","scale":{"domain":[1350.1,2152.1],"nice":false,"zero":false}}}}
]}
